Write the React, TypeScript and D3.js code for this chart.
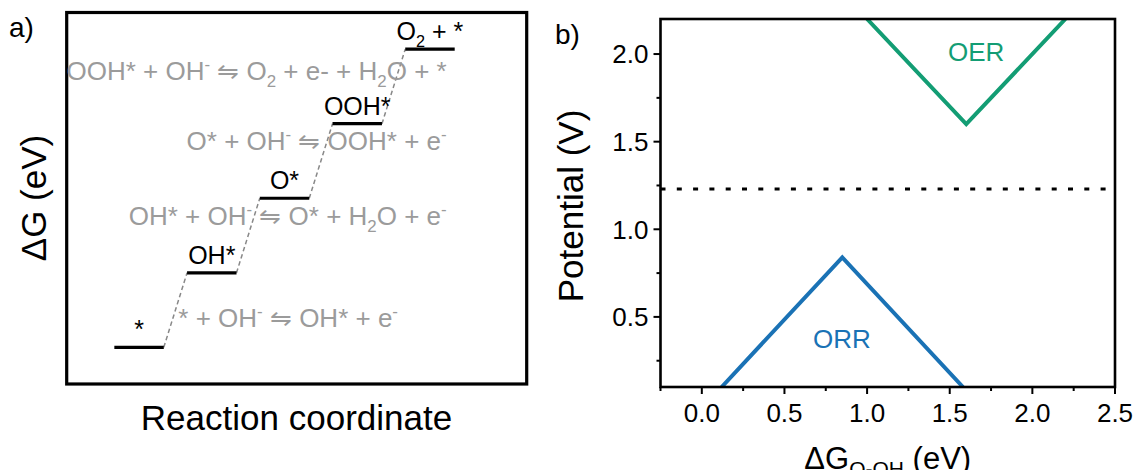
import * as d3 from "d3";

// panel a) idealised free-energy ladder (equal 1.23 eV steps)
const levelLabels = ["*", "OH*", "O*", "OOH*", "O_2 + *"];
const levelEnergy = [0, 1.23, 2.46, 3.69, 4.92];
const stepLabels = [
  "* + OH^- ⇋ OH* + e^-",
  "OH* + OH^- ⇋ O* + H_2O + e^-",
  "O* + OH^- ⇋ OOH* + e^-",
  "OOH* + OH^- ⇋ O_2 + e- + H_2O + *",
];

// panel b) volcano lines
const oerX = [1.0, 1.6, 2.2];
const oerU = [2.2, 1.6, 2.2];
const orrX = [0.12, 0.85, 1.58];
const orrU = [0.1, 0.84, 0.1];
const eqPotential = 1.23;
const xTicks = [0, 0.5, 1, 1.5, 2, 2.5];
const xMinor = [-0.25, 0.25, 0.75, 1.25, 1.75, 2.25];
const yTicks = [0.5, 1, 1.5, 2];
const yMinor = [0.25, 0.75, 1.25, 1.75];

const FONT = "Arial, 'Liberation Sans', Helvetica, sans-serif";
const GREEN = "#139d74";
const BLUE = "#1a72b5";
const GREY = "#9b9b9b";

// "_x" -> subscript char, "^x" -> superscript char
function richText(s: string, fs: number) {
  const parts: { t: string; k: string }[] = [];
  let buf = "";
  for (let i = 0; i < s.length; i++) {
    const c = s[i];
    if ((c === "_" || c === "^") && i + 1 < s.length) {
      if (buf) parts.push({ t: buf, k: "n" });
      buf = "";
      parts.push({ t: s[i + 1], k: c === "_" ? "sub" : "sup" });
      i++;
    } else buf += c;
  }
  if (buf) parts.push({ t: buf, k: "n" });
  let shift = 0;
  return parts.map((p, j) => {
    const target = p.k === "sub" ? fs * 0.28 : p.k === "sup" ? -fs * 0.38 : 0;
    const dy = target - shift;
    shift = target;
    return (
      <tspan key={j} dy={dy || undefined} fontSize={p.k === "n" ? undefined : fs * 0.65}>
        {p.t}
      </tspan>
    );
  });
}

function PanelA() {
  const x = d3.scaleLinear([-0.655, 5.67], [66.7, 526.7]);
  const y = d3.scaleLinear([-0.605, 5.525], [384, 12.5]);
  const w = 0.68; // level width in reaction-coordinate units
  // where the step equations sit (reaction coordinate, eV, anchor)
  const stepPos: [number, number, string][] = [
    [0.88, 0.34, "start"],
    [4.57, 2.02, "end"],
    [4.57, 3.26, "end"],
    [4.57, 4.41, "end"],
  ];
  return (
    <g fontFamily={FONT}>
      <text x={9} y={37} fontSize={28}>a)</text>
      <rect x={x(-0.655)} y={y(5.525)} width={x(5.67) - x(-0.655)} height={y(-0.605) - y(5.525)}
        fill="none" stroke="#000" strokeWidth={3.2} />
      {levelEnergy.slice(1).map((e, i) => (
        <line key={i} x1={x(i + w)} y1={y(levelEnergy[i])} x2={x(i + 1)} y2={y(e)}
          stroke="#888" strokeWidth={1.5} strokeDasharray="4.5,3" />
      ))}
      {levelEnergy.map((e, i) => (
        <g key={i}>
          <line x1={x(i)} x2={x(i + w)} y1={y(e)} y2={y(e)} stroke="#000" strokeWidth={3.2} />
          <text x={x(i + w / 2)} y={y(e) - 9} fontSize={25} textAnchor="middle">
            {richText(levelLabels[i], 25)}
          </text>
        </g>
      ))}
      {stepLabels.map((s, i) => (
        <text key={i} x={x(stepPos[i][0])} y={y(stepPos[i][1])} fontSize={26} fill={GREY}
          textAnchor={stepPos[i][2]}>
          {richText(s, 26)}
        </text>
      ))}
      <text transform={`translate(46,198) rotate(-90)`} fontSize={35} textAnchor="middle">ΔG (eV)</text>
      <text x={296.5} y={430} fontSize={35} textAnchor="middle">Reaction coordinate</text>
    </g>
  );
}

function PanelB() {
  const x = d3.scaleLinear([-0.25, 2.5], [660.5, 1115]);
  const y = d3.scaleLinear([0.1, 2.2], [387, 19]);
  const path = (xs: number[], us: number[]) =>
    d3.line<number>((d) => x(d), (_, i) => y(us[i]))(xs) ?? "";
  const fmt = d3.format(".1f");
  const [x0, x1] = x.range();
  const [y1, y0] = y.range();
  return (
    <g fontFamily={FONT}>
      <defs>
        <clipPath id="plotB">
          <rect x={x0} y={y0} width={x1 - x0} height={y1 - y0} />
        </clipPath>
      </defs>
      <text x={555} y={44} fontSize={28}>b)</text>
      <line x1={x0} x2={x1 - 8} y1={y(eqPotential)} y2={y(eqPotential)} stroke="#000" strokeWidth={3}
        strokeDasharray="5,11.3" />
      <g clipPath="url(#plotB)" fill="none" strokeWidth={4} strokeLinejoin="miter">
        <path d={path(oerX, oerU)} stroke={GREEN} />
        <path d={path(orrX, orrU)} stroke={BLUE} />
      </g>
      <text x={x(1.66)} y={y(1.96)} fontSize={26} fill={GREEN} textAnchor="middle">OER</text>
      <text x={x(0.848)} y={y(0.32)} fontSize={26} fill={BLUE} textAnchor="middle">ORR</text>
      <rect x={x0} y={y0} width={x1 - x0} height={y1 - y0} fill="none" stroke="#000" strokeWidth={2.6} />
      {xTicks.map((t) => (
        <g key={t}>
          <line x1={x(t)} x2={x(t)} y1={y1} y2={y1 + 7} stroke="#000" strokeWidth={2} />
          <text x={x(t)} y={422} fontSize={26} textAnchor="middle">{fmt(t)}</text>
        </g>
      ))}
      {xMinor.map((t) => (
        <line key={t} x1={x(t)} x2={x(t)} y1={y1} y2={y1 + 4} stroke="#000" strokeWidth={2} />
      ))}
      {yTicks.map((t) => (
        <g key={t}>
          <line x1={x0 - 7} x2={x0} y1={y(t)} y2={y(t)} stroke="#000" strokeWidth={2} />
          <text x={x0 - 12} y={y(t)} dy="0.36em" fontSize={26} textAnchor="end">{fmt(t)}</text>
        </g>
      ))}
      {yMinor.map((t) => (
        <line key={t} x1={x0 - 4} x2={x0} y1={y(t)} y2={y(t)} stroke="#000" strokeWidth={2} />
      ))}
      <text transform={`translate(583,206) rotate(-90)`} fontSize={35} textAnchor="middle">
        Potential (V)
      </text>
      <text x={(x0 + x1) / 2} y={469} fontSize={31} textAnchor="middle">
        ΔG<tspan fontSize={21} dy={6.5}>O-OH</tspan>
        <tspan dy={-6.5}> (eV)</tspan>
      </text>
    </g>
  );
}

export default function App() {
  return (
    <svg width={1137} height={470} style={{ position: "absolute", left: 0, top: 0, background: "#fff" }}>
      <PanelA />
      <PanelB />
    </svg>
  );
}
